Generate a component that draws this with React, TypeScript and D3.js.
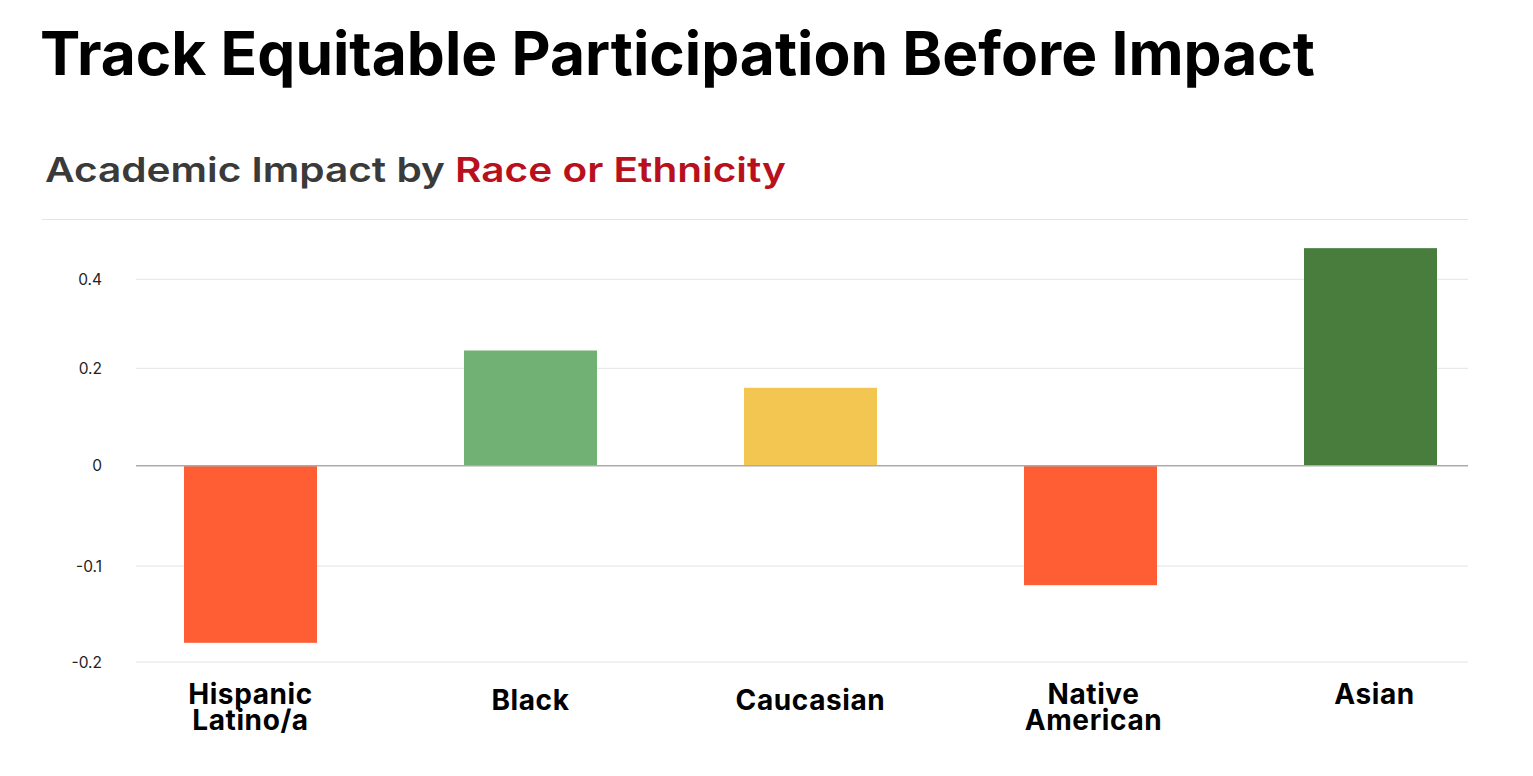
import React from "react";
import * as d3 from "d3";

const categories = ["Hispanic Latino/a", "Black", "Caucasian", "Native American", "Asian"];
const labelLines = [["Hispanic", "Latino/a"], ["Black"], ["Caucasian"], ["Native", "American"], ["Asian"]];
const values = [-0.18, 0.24, 0.16, -0.12, 0.47];
const barColors = ["#FF5E35", "#71B174", "#F2C651", "#FF5E35", "#487D3E"];
const yTicks = [-0.2, -0.1, 0, 0.2, 0.4];
const yTickLabels = ["-0.2", "-0.1", "0", "0.2", "0.4"];

const W = 1533;
const H = 776;
const gridLeft = 136;
const gridRight = 1468;
const plotTop = 219.5;

export default function App() {
  const x = d3
    .scaleBand<string>()
    .domain(categories)
    .range([110.5, 1510.5])
    .paddingInner(0.525)
    .paddingOuter(0.2625);

  // the source chart uses uneven spacing between its gridlines
  const y = d3
    .scaleLinear()
    .domain(yTicks)
    .range([662, 566, 465.7, 368.3, 279.3]);

  const font = "Inter, 'DejaVu Sans', sans-serif";
  const singleBaseline = [0, 710, 710, 0, 704];

  return (
    <svg
      width={W}
      height={H}
      viewBox={`0 0 ${W} ${H}`}
      style={{ position: "absolute", left: 0, top: 0, background: "#fff" }}
    >
      <text
        x={40}
        y={75}
        fontFamily={font}
        fontWeight={700}
        fontSize={60}
        fill="#000"
        textLength={1275}
        lengthAdjust="spacingAndGlyphs"
      >
        Track Equitable Participation Before Impact
      </text>
      <text
        x={45}
        y={182}
        fontFamily={font}
        fontWeight={600}
        fontSize={34}
        textLength={741}
        lengthAdjust="spacingAndGlyphs"
      >
        <tspan fill="#3A3A3A">Academic Impact by </tspan>
        <tspan fill="#B8101C">Race or Ethnicity</tspan>
      </text>

      {/* top border gridline */}
      <line x1={42} x2={gridRight} y1={plotTop} y2={plotTop} stroke="#E4E4E4" strokeWidth={1} />

      {yTicks.map((t, i) => (
        <g key={t}>
          {t !== 0 && (
            <line x1={gridLeft} x2={gridRight} y1={y(t)} y2={y(t)} stroke="#E4E4E4" strokeWidth={1} />
          )}
          <text
            x={102}
            y={y(t) + 5.5}
            textAnchor="end"
            fontFamily={font}
            fontSize={15.5}
            fill="#222"
          >
            {yTickLabels[i]}
          </text>
        </g>
      ))}

      {categories.map((c, i) => {
        const v = values[i];
        const y0 = y(0);
        const y1 = y(v);
        return (
          <rect
            key={c}
            x={x(c)}
            width={x.bandwidth()}
            y={Math.min(y0, y1)}
            height={Math.abs(y1 - y0)}
            fill={barColors[i]}
          />
        );
      })}

      <line x1={gridLeft} x2={gridRight} y1={y(0)} y2={y(0)} stroke="#ABABAB" strokeWidth={1.5} />

      {categories.map((c, i) => {
        const cx = (x(c) as number) + x.bandwidth() / 2;
        const lines = labelLines[i];
        return (
          <text
            key={c}
            x={cx}
            textAnchor="middle"
            fontFamily={font}
            fontWeight={700}
            fontSize={28}
            letterSpacing={0.6}
            fill="#000"
          >
            {lines.length === 2 ? (
              <>
                <tspan x={cx + (i === 3 ? 3 : 0)} y={704}>{lines[0]}</tspan>
                <tspan x={cx + (i === 3 ? 3 : 0)} y={730}>{lines[1]}</tspan>
              </>
            ) : (
              <tspan x={cx + (i === 4 ? 4 : 0)} y={singleBaseline[i]}>{lines[0]}</tspan>
            )}
          </text>
        );
      })}
    </svg>
  );
}
